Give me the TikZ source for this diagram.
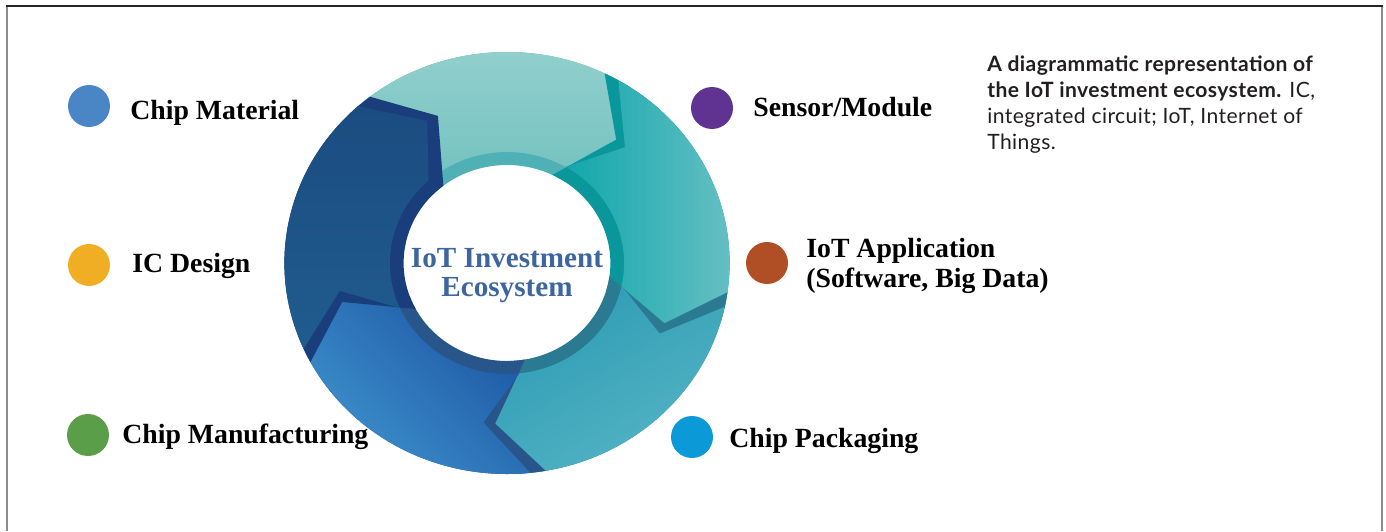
\documentclass[tikz,border=0pt]{standalone}
\usepackage{fontspec}
\setmainfont{Liberation Serif}
\newfontfamily\capfont[LetterSpace=2]{Lato}
\usetikzlibrary{positioning,calc}

% ring colours
\definecolor{aquaTop}{HTML}{94D1CD}
\definecolor{aquaBot}{HTML}{74C2C1}
\definecolor{aquaRim}{HTML}{4FB0B6}
\definecolor{tealL}{HTML}{12A7AC}
\definecolor{tealR}{HTML}{6CC1C5}
\definecolor{tealRim}{HTML}{0A979C}
\definecolor{ceruTop}{HTML}{2C9BB4}
\definecolor{ceruBot}{HTML}{55B4C4}
\definecolor{ceruRim}{HTML}{2A7A92}
\definecolor{blueTop}{HTML}{1B56A4}
\definecolor{blueBot}{HTML}{3F92CC}
\definecolor{blueRim}{HTML}{28568A}
\definecolor{navyTop}{HTML}{1B4C81}
\definecolor{navyBot}{HTML}{205C8E}
\definecolor{navyRim}{HTML}{1A3D7B}
% dots and text
\definecolor{dotMat}{HTML}{4A86C6}
\definecolor{dotIcd}{HTML}{F0AE24}
\definecolor{dotMan}{HTML}{5B9E4A}
\definecolor{dotSen}{HTML}{603393}
\definecolor{dotApp}{HTML}{B04F26}
\definecolor{dotPak}{HTML}{0B9AD7}
\definecolor{ecoBlue}{HTML}{3D659F}
\definecolor{capInk}{HTML}{231F20}

\tikzset{
  faceA/.style={top color=aquaTop, bottom color=aquaBot},
  faceB/.style={left color=tealL, right color=tealR},
  faceC/.style={top color=ceruTop, bottom color=ceruBot, shading angle=30},
  faceD/.style={top color=blueTop, bottom color=blueBot, shading angle=-45},
  faceE/.style={top color=navyTop, bottom color=navyBot},
  dot/.style={circle, minimum size=0.84cm, inner sep=0pt, draw=none},
  lbl/.style={font=\fontsize{15.8}{17.6}\selectfont\bfseries, inner sep=0pt,
    anchor=base west, align=left},
  ecotext/.style={font=\fontsize{16.6}{16.6}\selectfont\bfseries, text=ecoBlue,
    inner sep=0pt, anchor=base, align=center},
  captext/.style={font=\capfont\fontsize{12}{14.8}\selectfont, text=capInk,
    inner sep=0pt, anchor=base west, align=left}
}

\begin{document}
\begin{tikzpicture}[x=0.02cm, y=0.02cm]
  \useasboundingbox (0,0) rectangle (1386,531);

  % box round the figure
  \draw[black!45, line width=0.04cm] (7,0) -- (7,524.5);
  \draw[black!45, line width=0.04cm] (1382,0) -- (1382,524.5);
  \draw[black!85, line width=0.04cm] (6,524.5) -- (1383,524.5);

  % ring of five arrow segments
  \begin{scope}[shift={(507,268)}, xscale=1.055]
    \foreach \a/\b/\fc/\rc in {132/60/faceA/aquaRim, 60/-12/faceB/tealRim,
        -12/-84/faceC/ceruRim, -84/-156/faceD/blueRim, -156/-228/faceE/navyRim}{
      \pgfmathsetmacro\as{\a+4}
      \pgfmathsetmacro\bs{\b-4}
      \pgfmathsetmacro\an{\a-10}
      \pgfmathsetmacro\bn{\b-18}
      \pgfmathsetmacro\at{\a-14}
      \pgfmathsetmacro\bt{\b-14}
      % side wall
      \fill[\rc] (\as:211) arc[start angle=\as, end angle=\bs, radius=211]
        -- (\bn:161) -- (\bs:98) arc[start angle=\bs, end angle=\as, radius=98]
        -- (\an:161) -- cycle;
      % top face
      \shade[\fc] (\a:211) arc[start angle=\a, end angle=\b, radius=211]
        -- (\bt:161) -- (\b:111) arc[start angle=\b, end angle=\a, radius=111]
        -- (\at:161) -- cycle;
    }
  \end{scope}

  \node[ecotext] (eco) at (507,234) {IoT Investment\\Ecosystem};

  % left column
  \node[dot, fill=dotMat] (dmat) at (89,425) {};
  \node[lbl] (tmat) at (130,411) {Chip Material};
  \node[dot, fill=dotIcd] (dicd) at (89,266) {};
  \node[lbl] (ticd) at (132,258) {IC Design};
  \node[dot, fill=dotMan] (dman) at (88,96) {};
  \node[lbl] (tman) at (122,88) {Chip Manufacturing};

  % right column
  \node[dot, fill=dotSen] (dsen) at (712,423) {};
  \node[lbl] (tsen) at (753,414) {Sensor/Module};
  \node[dot, fill=dotApp] (dapp) at (767,268) {};
  \node[lbl] (tapp) at (806,243) {IoT Application\\(Software, Big Data)};
  \node[dot, fill=dotPak] (dpak) at (692,94) {};
  \node[lbl] (tpak) at (729,84) {Chip Packaging};

  % caption
  \node[captext] (cap) at (987,381) {\textbf{A diagrammatic representation of}\\
    \textbf{the IoT investment ecosystem.} IC,\\
    integrated circuit; IoT, Internet of\\
    Things.};
\end{tikzpicture}
\end{document}
